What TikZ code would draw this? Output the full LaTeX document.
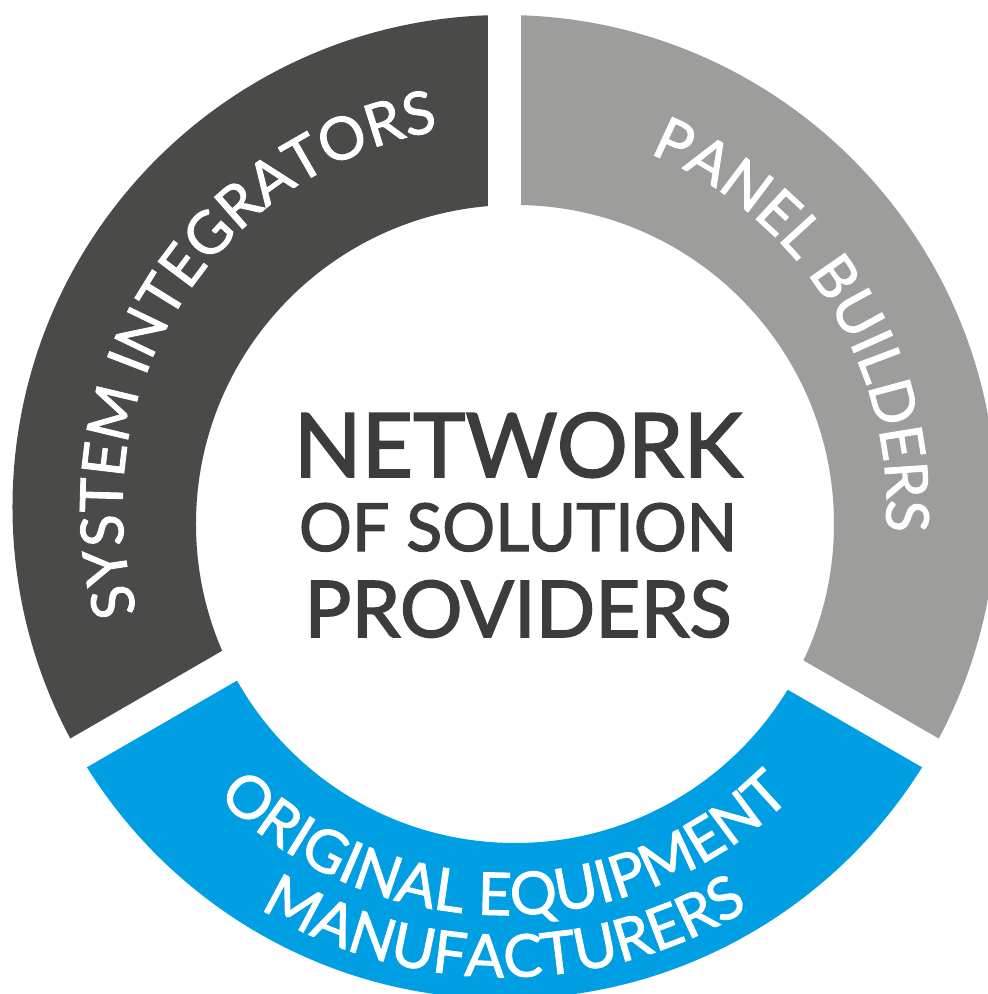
\documentclass[tikz,border=0pt]{standalone}
\usepackage{graphicx}
\usepackage{fontspec}
\setmainfont{Lato}
\newfontfamily\ringface{Lato}[FakeBold=1.5]
\newfontfamily\hubface{Lato}[FakeBold=2]
\usetikzlibrary{decorations.text}
\definecolor{sidark}{HTML}{4A4A49}
\definecolor{pbgray}{HTML}{9D9D9C}
\definecolor{oemblue}{HTML}{009FE3}
\definecolor{hubgray}{HTML}{3C3C3B}
\newcommand{\ringfont}{\ringface\fontsize{59}{70}\selectfont}
\tikzset{
	ringtext/.style={decorate, decoration={text along path, text={|\ringfont|#1}, text align=center, text color=white}},
	hubtext/.style={text=hubgray, font=\hubface, inner sep=0pt, anchor=base}
}
\begin{document}
\begin{tikzpicture}[x=1pt,y=1pt]
		\useasboundingbox (-504.5,-487) rectangle (483.5,507);
		\clip (-504.5,-487) rectangle (483.5,507);
		\coordinate (hub) at (0,0);
		\coordinate (hole) at (10.5,-17);
		% the three parts of the ring
		\foreach \col/\from in {pbgray/-30, sidark/90, oemblue/210}{
			\begin{scope}
				\clip (hub) -- (\from:800) -- (\from+40:800) -- (\from+80:800) -- (\from+120:800) -- cycle;
				\fill[\col, even odd rule] (hub) circle[radius=492] (hole) circle[radius=319];
			\end{scope}
		}
		% white cuts
		\foreach \a in {90,210,330}
			\draw[white, line width=33pt] (hub) -- (\a:600);
		% labels on the ring
		\path[ringtext={SYSTEM INTEGRATORS}] (223:382) arc[start angle=223, end angle=73, radius=382];
		\path[ringtext={PANEL BUILDERS}] (107:382) arc[start angle=107, end angle=-43, radius=382];
		\path[ringtext={ORIGINAL EQUIPMENT}] (195:408) arc[start angle=195, end angle=345, radius=408];
		\path[ringtext={MANUFACTURERS}] (195:470) arc[start angle=195, end angle=345, radius=470];
		% text in the middle
		\node[hubtext] (net) at (13.5,30) {\resizebox{448pt}{!}{NETWORK}};
		\node[hubtext] (sol) at (13.5,-44) {\resizebox{438pt}{!}{OF SOLUTION}};
		\node[hubtext] (prov) at (13.5,-130) {\resizebox{427pt}{!}{PROVIDERS}};
	\end{tikzpicture}
\end{document}
